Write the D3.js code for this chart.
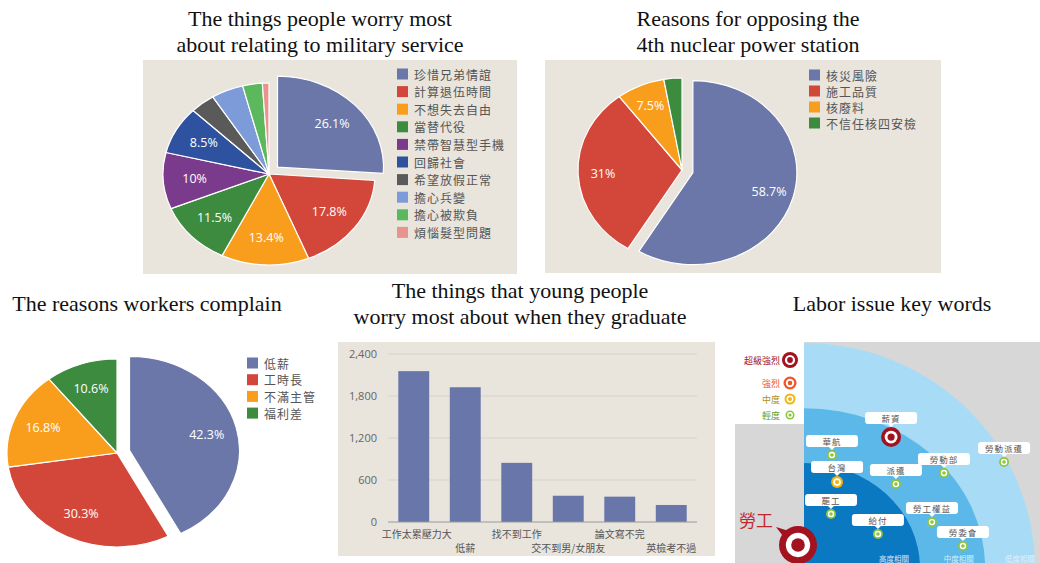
<!DOCTYPE html>
<html><head><meta charset="utf-8">
<script src="https://cdn.jsdelivr.net/npm/d3@7"></script>
<style>body{margin:0;background:#fff}svg{display:block}</style>
</head><body><svg id="c" width="1040" height="563"></svg>
<script>
// ---------- data ----------
const militaryCats = ['珍惜兄弟情誼','計算退伍時間','不想失去自由','當替代役','禁帶智慧型手機','回歸社會','希望放假正常','擔心兵變','擔心被欺負','煩惱髮型問題'];
const militaryVals = [26.1,17.8,13.4,11.5,10,8.5,3.8,4.9,3.0,1.0];
const militaryLabels = ['26.1%','17.8%','13.4%','11.5%','10%','8.5%','','','',''];
const militaryColors = ['#6a77a8','#d3473a','#f99d1c','#3d8b3f','#7b3b8c','#2e52a0','#5a5a5a','#7c9bd8','#5cb85c','#e8938d'];

const nuclearCats = ['核災風險','施工品質','核廢料','不信任核四安檢'];
const nuclearVals = [58.7,31,7.5,2.8];
const nuclearLabels = ['58.7%','31%','7.5%',''];

const workerCats = ['低薪','工時長','不滿主管','福利差'];
const workerVals = [42.3,30.3,16.8,10.6];
const workerLabels = ['42.3%','30.3%','16.8%','10.6%'];

const gradCats = ['工作太累壓力大','低薪','找不到工作','交不到男/女朋友','論文寫不完','英檢考不過'];
const gradVals = [2155,1925,845,375,362,243];
const gradTicks = [0,600,1200,1800,2400];

const levelNames = ['超級強烈','強烈','中度','輕度'];
const levelColors = ['#a3121f','#f0552a','#f2b50f','#8cc63f'];
const levelTextColors = ['#a3121f','#f0552a','#a89014','#5f9e35'];
const levelSizes = [10,7.5,6,5];
const kwNames = ['薪資','華航','台灣','罷工','給付','派遣','勞動部','勞動派遣','勞工權益','勞委會'];
const kwLevel = [0,3,2,3,3,3,3,3,3,3];
const kwX = [37.7,12.1,14.3,11.7,32,39.8,60.6,86.6,55.4,68.8];
const kwY = [58.2,50.2,38.2,24,15.1,37.3,42.2,47.1,20.4,9.8];
const ringRX = [100,78.4,50.2];
const ringRY = [100,71,46.7];
const ringNames = ['高度相關','中度相關','低度相關'];
const ringLabelX = [39,67,100];

const titles = [
  {lines:['The things people worry most','about relating to military service'], x:320, y:26},
  {lines:['Reasons for opposing the','4th nuclear power station'], x:748, y:26},
  {lines:['The reasons workers complain'], x:147, y:311},
  {lines:['The things that young people','worry most about when they graduate'], x:520, y:298},
  {lines:['Labor issue key words'], x:892, y:311}
];

const CJK = '"Noto Sans CJK TC","Noto Sans",sans-serif';
const LAT = '"Open Sans","Noto Sans",sans-serif';
const svg = d3.select('#c');

// ---------- titles ----------
titles.forEach(t=>{
  const tx = svg.append('text').attr('text-anchor','middle')
    .attr('font-family','"Liberation Serif","Times New Roman",serif')
    .attr('font-size',22).attr('fill','#111');
  t.lines.forEach((l,i)=>tx.append('tspan').attr('x',t.x).attr('y',t.y+i*26).text(l));
});

// ---------- panels ----------
const panelBg = '#e9e4dc';
svg.append('rect').attr('x',143).attr('y',60).attr('width',374).attr('height',214).attr('fill',panelBg);
svg.append('rect').attr('x',545).attr('y',60).attr('width',396).attr('height',213).attr('fill',panelBg);
svg.append('rect').attr('x',338).attr('y',342).attr('width',377).attr('height',214).attr('fill',panelBg);

// ---------- pie helper ----------
function drawPie(o){
  const sx = o.rx/o.ry;
  const arcs = d3.pie().sort(null).value(d=>d)(o.vals);
  const arc = d3.arc().innerRadius(0).outerRadius(o.ry);
  const lab = d3.arc().innerRadius(o.labelR).outerRadius(o.labelR);
  const g = svg.append('g').attr('transform',`translate(${o.cx},${o.cy}) scale(${sx},1)`);
  arcs.forEach((a,i)=>{
    const off = i===0 ? o.explode : 0;
    const mid = (a.startAngle+a.endAngle)/2;
    const ox = Math.sin(mid)*off, oy = -Math.cos(mid)*off;
    g.append('path').attr('d',arc(a)).attr('transform',`translate(${ox},${oy})`)
      .attr('fill',o.colors[i]).attr('stroke','#fff').attr('stroke-width',1.2)
      .attr('stroke-linejoin','round').attr('vector-effect','non-scaling-stroke');
  });
  arcs.forEach((a,i)=>{
    if(!o.labels[i]) return;
    const off = i===0 ? o.explode : 0;
    const mid = (a.startAngle+a.endAngle)/2;
    const ox = Math.sin(mid)*off, oy = -Math.cos(mid)*off;
    const c = lab.centroid(a);
    svg.append('text').attr('x',o.cx+(c[0]+ox)*sx).attr('y',o.cy+c[1]+oy)
      .attr('text-anchor','middle').attr('dominant-baseline','central')
      .attr('font-family',LAT).attr('font-size',12.5).attr('fill','#fff').text(o.labels[i]);
  });
  // legend
  o.cats.forEach((c,i)=>{
    const y = o.ly + i*o.lstep;
    svg.append('rect').attr('x',o.lx).attr('y',y-5.5).attr('width',11).attr('height',11).attr('fill',o.colors[i]);
    svg.append('text').attr('x',o.lx+17).attr('y',y).attr('dominant-baseline','central')
      .attr('font-family',CJK).attr('font-size',o.lfs).attr('fill','#555').attr('letter-spacing',1).text(c);
  });
}

drawPie({cx:269,cy:174,rx:106,ry:91,vals:militaryVals,colors:militaryColors,labels:militaryLabels,
  explode:10,labelR:64,cats:militaryCats,lx:397,ly:74,lstep:17.6,lfs:12});
drawPie({cx:682,cy:170,rx:104,ry:92,vals:nuclearVals,colors:militaryColors,labels:nuclearLabels,
  explode:10,labelR:70,cats:nuclearCats,lx:809,ly:75,lstep:16,lfs:12});
drawPie({cx:117,cy:453,rx:110,ry:94,vals:workerVals,colors:militaryColors,labels:workerLabels,
  explode:11,labelR:68,cats:workerCats,lx:247,ly:363,lstep:16.7,lfs:12});

// ---------- bar chart ----------
const x = d3.scaleBand().domain(gradCats).range([388,697]).paddingInner(0.4).paddingOuter(0.2);
const y = d3.scaleLinear().domain([0,2400]).range([522,354]);
const bg = svg.append('g');
bg.selectAll('line.grid').data(gradTicks.slice(1)).join('line')
  .attr('x1',388).attr('x2',697).attr('y1',d=>y(d)).attr('y2',d=>y(d))
  .attr('stroke','#d9d3c9').attr('stroke-width',1);
bg.selectAll('rect.bar').data(gradVals).join('rect')
  .attr('x',(d,i)=>x(gradCats[i])).attr('width',x.bandwidth())
  .attr('y',d=>y(d)).attr('height',d=>y(0)-y(d)).attr('fill','#6876a9');
bg.append('line').attr('x1',388).attr('x2',697).attr('y1',y(0)).attr('y2',y(0)).attr('stroke','#9a9a9a');
const yAxis = d3.axisLeft(y).tickValues(gradTicks).tickFormat(d3.format(',')).tickSize(0).tickPadding(11);
const ya = bg.append('g').attr('transform','translate(388,0)').call(yAxis);
ya.select('.domain').remove();
ya.selectAll('text').attr('font-family',LAT).attr('font-size',11).attr('fill','#666');
gradCats.forEach((c,i)=>{
  bg.append('text').attr('x',x(c)+x.bandwidth()/2+(i===0?3:0)).attr('y',i%2===0?533:547)
    .attr('text-anchor','middle').attr('dominant-baseline','central')
    .attr('font-family',CJK).attr('font-size',10).attr('fill','#555').text(c);
});

// ---------- labor key words ----------
const L = {x0:735,y0:342,x1:1040,y1:563};
svg.append('clipPath').attr('id','lclip').append('rect')
  .attr('x',L.x0).attr('y',L.y0).attr('width',L.x1-L.x0).attr('height',L.y1-L.y0);
const lg = svg.append('g').attr('clip-path','url(#lclip)');
const kx = d3.scaleLinear().domain([0,100]).range([804,1035]);
const ky = d3.scaleLinear().domain([0,100]).range([568,343]);
lg.append('rect').attr('x',L.x0).attr('y',L.y0).attr('width',L.x1-L.x0).attr('height',L.y1-L.y0).attr('fill','#d7d7d7');
const ringColors = ['#a8dcf6','#5db8ea','#0b78c2'];
ringRX.forEach((r,i)=>{
  lg.append('ellipse').attr('cx',kx(0)).attr('cy',ky(0))
    .attr('rx',kx(r)-kx(0)).attr('ry',ky(0)-ky(ringRY[i])).attr('fill',ringColors[i]);
});
// left strip + legend box
lg.append('rect').attr('x',L.x0).attr('y',L.y0).attr('width',kx(0)-L.x0).attr('height',L.y1-L.y0).attr('fill','#d7d7d7');
lg.append('rect').attr('x',L.x0).attr('y',L.y0).attr('width',kx(0)-L.x0).attr('height',82).attr('fill','#fff');

function target(g,cx,cy,r,col){
  g.append('circle').attr('cx',cx).attr('cy',cy).attr('r',r).attr('fill',col);
  g.append('circle').attr('cx',cx).attr('cy',cy).attr('r',r*0.64).attr('fill','#fff');
  g.append('circle').attr('cx',cx).attr('cy',cy).attr('r',r*0.36).attr('fill',col);
}
// legend
levelNames.forEach((n,i)=>{
  const yy = [360,383,399,415][i];
  lg.append('text').attr('x',780).attr('y',yy).attr('text-anchor','end').attr('dominant-baseline','central')
    .attr('font-family',CJK).attr('font-size',9).attr('fill',levelTextColors[i]).text(n);
  target(lg,790,yy,[8,6.5,5.5,4.5][i],levelColors[i]);
});
// ring labels
ringNames.forEach((n,i)=>{
  lg.append('text').attr('x',Math.min(kx(ringLabelX[i]),1038)).attr('y',558)
    .attr('text-anchor',i===2?'end':'middle')
    .attr('dominant-baseline','central').attr('font-family',CJK).attr('font-size',7.5)
    .attr('fill','#e6f3fb').attr('opacity',0.9).text(n);
});
// keywords
kwNames.forEach((n,i)=>{
  const cx = kx(kwX[i]), cy = ky(kwY[i]);
  const r = levelSizes[kwLevel[i]];
  const by = cy - r - 9;
  lg.append('rect').attr('x',cx-26).attr('y',by-6).attr('width',52).attr('height',12)
    .attr('rx',3).attr('fill','#fff');
  lg.append('path').attr('d',`M${cx-3},${by+6}L${cx},${by+9}L${cx+3},${by+6}Z`).attr('fill','#fff');
  lg.append('text').attr('x',cx).attr('y',by).attr('text-anchor','middle').attr('dominant-baseline','central')
    .attr('font-family',CJK).attr('font-size',8.5).attr('fill','#555').attr('letter-spacing',1).text(n);
  target(lg,cx,cy,r,levelColors[kwLevel[i]]);
});
// center: 勞工
lg.append('path').attr('d','M776,527 L792,532 L786,540 Z').attr('fill','#a3121f');
target(lg,798,545,19,'#a3121f');
lg.append('text').attr('x',756).attr('y',519).attr('text-anchor','middle').attr('dominant-baseline','central')
  .attr('font-family',CJK).attr('font-size',17).attr('fill','#c0272d').text('勞工');
</script></body></html>
